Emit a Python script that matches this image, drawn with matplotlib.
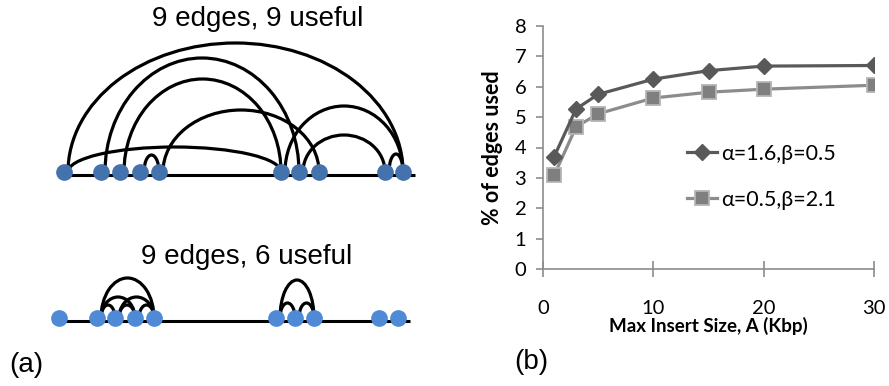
import matplotlib
matplotlib.use("Agg")
import matplotlib.pyplot as plt
from matplotlib.patches import Arc

# ---------------- data ----------------
# panel (a): node positions along the genome line (pixel-like units)
top_nodes = [64, 101, 120, 140, 159, 281, 299, 319, 385, 403]
# arcs: (from node, to node, arc height)
top_arcs = [(0, 9, 129), (1, 6, 114), (2, 5, 93), (4, 7, 62), (3, 4, 17),
            (0, 5, 25), (5, 9, 66), (6, 8, 37), (8, 9, 18)]
top_title = "9 edges, 9 useful"

bot_nodes = [59, 97, 115, 135, 154, 276, 295, 314, 379, 398]
bot_arcs = [(1, 4, 40), (1, 3, 21), (2, 4, 21), (1, 2, 13), (2, 3, 13),
            (3, 4, 13), (5, 7, 38), (5, 6, 15), (6, 7, 15)]
bot_title = "9 edges, 6 useful"

# panel (b)
insert_size = [1, 3, 5, 10, 15, 20, 30]
series1 = [3.69, 5.27, 5.75, 6.25, 6.53, 6.68, 6.70]
series2 = [3.08, 4.68, 5.11, 5.63, 5.82, 5.92, 6.05]
label1 = "α=1.6,β=0.5"
label2 = "α=0.5,β=2.1"
yticks = [0, 1, 2, 3, 4, 5, 6, 7, 8]
xticks = [0, 10, 20, 30]

W, H = 889, 386
fig = plt.figure(figsize=(W / 100, H / 100), dpi=100)

# ---------------- panel (a) ----------------
axa = fig.add_axes([0, 0, 0.5, 1])
axa.set_xlim(0, W * 0.5)
axa.set_ylim(H, 0)
axa.axis("off")


def draw_diagram(nodes, arcs, node_y, line_y, x0, x1, color, title, title_x, title_y):
    axa.plot([x0, x1], [line_y, line_y], color="black", lw=2.2,
             solid_capstyle="butt", zorder=1)
    for i, j, h in arcs:
        xa = nodes[i] + 4
        xb = nodes[j]
        cx = (xa + xb) / 2
        w = xb - xa
        axa.add_patch(Arc((cx, node_y), w, 2 * h, theta1=180, theta2=360,
                          color="black", lw=2.3, zorder=2))
    axa.plot(nodes, [node_y] * len(nodes), "o", ms=11, color=color,
             mec=color, zorder=3)
    axa.text(title_x, title_y, title, ha="center", va="center",
             fontsize=20, family="Liberation Sans")


draw_diagram(top_nodes, top_arcs, 172, 175, 58, 415, "#4472ad", top_title, 258, 19)
draw_diagram(bot_nodes, bot_arcs, 318, 321, 52, 410, "#4f8ad6", bot_title, 247, 257)
axa.text(9, 365, "(a)", ha="left", va="center", fontsize=20,
         family="Liberation Sans")

# ---------------- panel (b) ----------------
fam = ["Lato", "DejaVu Sans"]
axb = fig.add_axes([543 / W, 1 - 269 / H, (874 - 543) / W, (269 - 26) / H])
axb.plot(insert_size, series1, "-D", color="#595959", lw=2.3, ms=8,
         mfc="#595959", mec="#595959", label=label1, zorder=3)
axb.plot(insert_size, series2, "-s", color="#8c8c8c", lw=2.3, ms=9.5,
         mfc="#7f7f7f", mec="#b5b5b5", mew=1.3, label=label2, zorder=2)
axb.set_xlim(0, 30)
axb.set_ylim(0, 8)
axb.set_xticks(xticks)
axb.set_yticks(yticks)
for s in ["top", "right"]:
    axb.spines[s].set_visible(False)
for s in ["left", "bottom"]:
    axb.spines[s].set_color("#8c8c8c")
    axb.spines[s].set_linewidth(1.2)
axb.tick_params(axis="y", direction="out", length=5, width=1.2,
                color="#8c8c8c", pad=7, labelsize=14.5)
axb.tick_params(axis="x", direction="inout", length=12, width=1.2,
                color="#8c8c8c", pad=16, labelsize=14.5)
for lab in axb.get_xticklabels() + axb.get_yticklabels():
    lab.set_family(fam)
axb.set_ylabel("% of edges used", fontsize=15.5, fontweight="bold",
               family=fam, labelpad=8)
axb.set_xlabel("Max Insert Size, A (Kbp)", fontsize=13.5, fontweight="bold",
               family=fam, labelpad=0)
leg = axb.legend(loc="upper left", bbox_to_anchor=(0.436, 0.515),
                 frameon=False, handlelength=1.4, handletextpad=0.15,
                 labelspacing=1.2, borderpad=0, borderaxespad=0,
                 prop={"family": fam, "size": 15.5})
fig.text(514 / W, 1 - 362 / H, "(b)", ha="left", va="center", fontsize=20,
         family="Liberation Sans")

fig.savefig("out.png", dpi=100)
